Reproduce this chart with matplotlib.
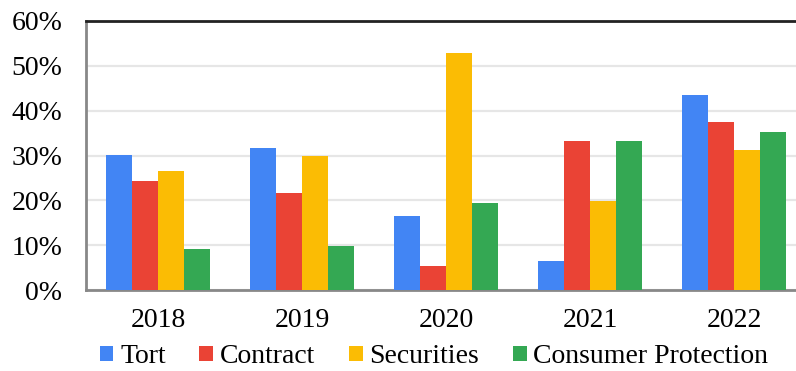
import matplotlib.pyplot as plt
import numpy as np
from matplotlib.ticker import PercentFormatter

years = ["2018", "2019", "2020", "2021", "2022"]
series = ["Tort", "Contract", "Securities", "Consumer Protection"]
tort = [30.2, 31.6, 16.4, 6.5, 43.6]
contract = [24.3, 21.6, 5.4, 33.2, 37.4]
securities = [26.6, 29.9, 52.8, 19.9, 31.2]
consumer = [9.2, 9.9, 19.3, 33.2, 35.3]
colors = ["#4285F4", "#EA4335", "#FBBC04", "#34A853"]

plt.rcParams["font.family"] = ["Liberation Serif", "DejaVu Serif"]

fig = plt.figure(figsize=(7.96, 3.71), dpi=100)
# plot area runs past the right edge of the canvas
ax = fig.add_axes([86 / 796, 1 - 290 / 371, 720 / 796, 269 / 371])

x = np.arange(len(years))
width = 0.18
for i, (name, vals) in enumerate(zip(series, [tort, contract, securities, consumer])):
    ax.bar(x + (i - 1.5) * width, vals, width=width, color=colors[i],
           label=name, zorder=3)

ax.set_xlim(-0.5, 4.5)
ax.set_ylim(0, 60)
ax.set_yticks(range(0, 61, 10))
ax.yaxis.set_major_formatter(PercentFormatter(decimals=0))
ax.set_xticks(x)
ax.set_xticklabels(years)
ax.tick_params(axis="both", length=0, labelsize=20)
ax.tick_params(axis="y", pad=17)
ax.tick_params(axis="x", pad=13)
ax.grid(axis="y", color="#e6e6e6", linewidth=1.6, zorder=0)

for side in ["left", "bottom"]:
    ax.spines[side].set_color("#888888")
    ax.spines[side].set_linewidth(2)
ax.spines["top"].set_color("#222222")
ax.spines["top"].set_linewidth(2)
ax.spines["right"].set_visible(False)

fig.legend(loc="center", bbox_to_anchor=(434 / 796, 0.038), ncol=4,
           frameon=False, fontsize=20, handlelength=0.5, handleheight=0.5,
           handletextpad=0.25, columnspacing=1.2, borderpad=0, borderaxespad=0)

fig.savefig("out.png", dpi=100)
